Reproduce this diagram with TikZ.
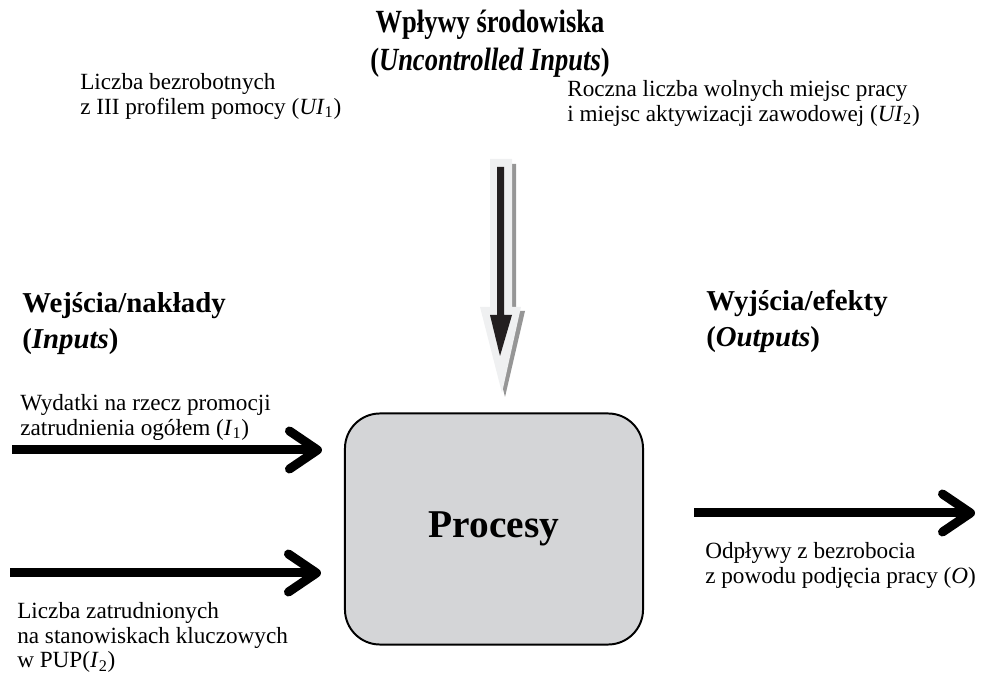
\documentclass[tikz,border=0pt]{standalone}
\usepackage{fontspec}
\setmainfont{Liberation Serif}
\newfontfamily\titlefont[FakeStretch=0.82]{Liberation Serif}
\usepackage{tikz}
\usetikzlibrary{arrows.meta, positioning}
\definecolor{procgray}{RGB}{212,213,215}
\definecolor{lightarrow}{RGB}{239,240,241}
\definecolor{shadowgray}{RGB}{150,150,150}
\definecolor{darkarrow}{RGB}{35,31,32}
\tikzstyle{process} = [rectangle, rounded corners=0.875cm, minimum width=7.45cm, minimum height=5.775cm, draw=black, line width=1.4pt, fill=procgray, font=\fontsize{28}{30}\selectfont\bfseries]
\tikzstyle{arrow} = [line width=6.4pt, -{Straight Barb[round, length=0.7cm, width=0.95cm]}]
\tikzstyle{note} = [inner sep=0pt, align=left, font=\fontsize{16.5}{17.6}\selectfont]
\tikzstyle{heading} = [inner sep=0pt, align=left, font=\fontsize{20.5}{25.6}\selectfont\bfseries]
\tikzset{envtitle/.style={inner sep=0pt, align=center, font=\titlefont\fontsize{23}{27}\selectfont\bfseries}}

\begin{document}
\begin{tikzpicture}[x=0.025cm, y=-0.025cm]
                \useasboundingbox (0,0) rectangle (981,674);
                \node (proc) [process] at (494,529) {Procesy};

                % headings
                \node (env) [envtitle, anchor=north] at (490,10) {Wpływy środowiska\\(\textit{Uncontrolled Inputs})};
                \node (inputs) [heading, anchor=north west] at (22,292) {Wejścia/nakłady\\(\textit{Inputs})};
                \node (outputs) [heading, anchor=north west] at (706,290) {Wyjścia/efekty\\(\textit{Outputs})};

                % labels
                \node (ui1) [note, anchor=north west] at (80,73) {Liczba bezrobotnych\\z III profilem pomocy (\textit{UI}\textsubscript{1})};
                \node (ui2) [note, anchor=north west] at (567,80) {Roczna liczba wolnych miejsc pracy\\i miejsc aktywizacji zawodowej (\textit{UI}\textsubscript{2})};
                \node (i1) [note, anchor=north west] at (20,394) {Wydatki na rzecz promocji\\zatrudnienia ogółem (\textit{I}\textsubscript{1})};
                \node (i2) [note, anchor=north west] at (17,602) {Liczba zatrudnionych\\na stanowiskach kluczowych\\w PUP(\textit{I}\textsubscript{2})};
                \node (o) [note, anchor=north west] at (705,542) {Odpływy z bezrobocia\\z powodu podjęcia pracy (\textit{O})};

                % arrows
                \coordinate (in1) at (12,450);
                \coordinate (in2) at (10,573);
                \coordinate (out) at (975,513);
                \draw [arrow, shorten >=0.55cm] (in1) -- (in1 -| proc.west);
                \draw [arrow, shorten >=0.575cm] (in2) -- (in2 -| proc.west);
                \draw [arrow, shorten <=1.25cm] (out -| proc.east) -- (out);

                % uncontrolled inputs arrow
                \coordinate (uin) at (490,159);
                \begin{scope}[shift={(uin)}]
                    \fill[shadowgray] (4,5) -- (26,5) -- (26,152) -- (35,152) -- (15,238) -- (-6,152) -- (4,152) -- cycle;
                    \fill[lightarrow] (0,0) -- (22,0) -- (22,148) -- (31,148) -- (12,234) -- (-10,148) -- (0,148) -- cycle;
                    \fill[darkarrow] (7,8) -- (14,8) -- (14,156) -- (22,156) -- (10,197) -- (0,156) -- (7,156) -- cycle;
                \end{scope}
            \end{tikzpicture}
\end{document}
